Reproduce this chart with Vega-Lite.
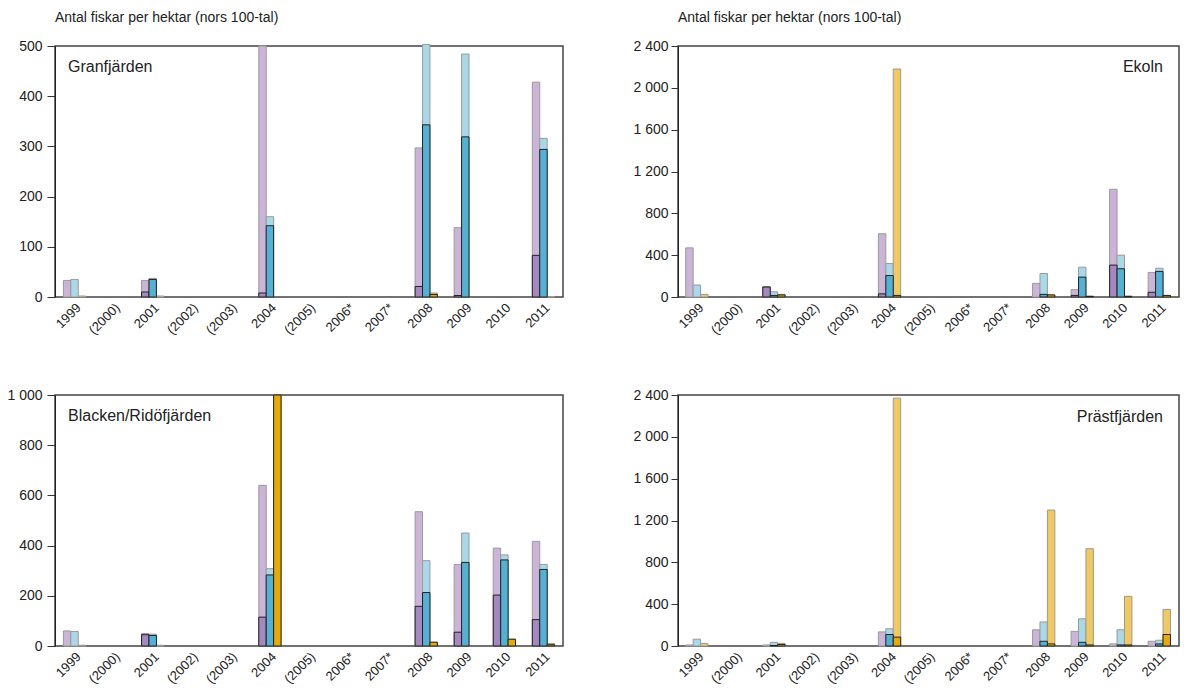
{
  "$schema": "https://vega.github.io/schema/vega-lite/v6.json",
  "background": "white",
  "padding": {"left": 6, "top": 10, "right": 0, "bottom": 0},
  "datasets": {
    "fisk": [
      {"sjo": "Granfjärden", "ar": "1999", "grupp": "A", "total": 33, "andel": null},
      {"sjo": "Granfjärden", "ar": "1999", "grupp": "B", "total": 35, "andel": null},
      {"sjo": "Granfjärden", "ar": "1999", "grupp": "C", "total": 2, "andel": null},
      {"sjo": "Granfjärden", "ar": "2001", "grupp": "A", "total": 33, "andel": 10},
      {"sjo": "Granfjärden", "ar": "2001", "grupp": "B", "total": 37, "andel": 35},
      {"sjo": "Granfjärden", "ar": "2001", "grupp": "C", "total": 2, "andel": null},
      {"sjo": "Granfjärden", "ar": "2004", "grupp": "A", "total": 500, "andel": 8},
      {"sjo": "Granfjärden", "ar": "2004", "grupp": "B", "total": 160, "andel": 142},
      {"sjo": "Granfjärden", "ar": "2008", "grupp": "A", "total": 297, "andel": 21},
      {"sjo": "Granfjärden", "ar": "2008", "grupp": "B", "total": 503, "andel": 343},
      {"sjo": "Granfjärden", "ar": "2008", "grupp": "C", "total": 8, "andel": 5},
      {"sjo": "Granfjärden", "ar": "2009", "grupp": "A", "total": 138, "andel": 3},
      {"sjo": "Granfjärden", "ar": "2009", "grupp": "B", "total": 484, "andel": 319},
      {"sjo": "Granfjärden", "ar": "2011", "grupp": "A", "total": 428, "andel": 83},
      {"sjo": "Granfjärden", "ar": "2011", "grupp": "B", "total": 316, "andel": 294},
      {"sjo": "Granfjärden", "ar": "2011", "grupp": "C", "total": 1, "andel": null},

      {"sjo": "Ekoln", "ar": "1999", "grupp": "A", "total": 470, "andel": null},
      {"sjo": "Ekoln", "ar": "1999", "grupp": "B", "total": 115, "andel": null},
      {"sjo": "Ekoln", "ar": "1999", "grupp": "C", "total": 25, "andel": null},
      {"sjo": "Ekoln", "ar": "2001", "grupp": "A", "total": 100, "andel": 95},
      {"sjo": "Ekoln", "ar": "2001", "grupp": "B", "total": 50, "andel": 15},
      {"sjo": "Ekoln", "ar": "2001", "grupp": "C", "total": 25, "andel": 20},
      {"sjo": "Ekoln", "ar": "2004", "grupp": "A", "total": 605, "andel": 30},
      {"sjo": "Ekoln", "ar": "2004", "grupp": "B", "total": 320, "andel": 205},
      {"sjo": "Ekoln", "ar": "2004", "grupp": "C", "total": 2180, "andel": 15},
      {"sjo": "Ekoln", "ar": "2008", "grupp": "A", "total": 130, "andel": null},
      {"sjo": "Ekoln", "ar": "2008", "grupp": "B", "total": 225, "andel": 25},
      {"sjo": "Ekoln", "ar": "2008", "grupp": "C", "total": 20, "andel": 20},
      {"sjo": "Ekoln", "ar": "2009", "grupp": "A", "total": 70, "andel": 15},
      {"sjo": "Ekoln", "ar": "2009", "grupp": "B", "total": 285, "andel": 190},
      {"sjo": "Ekoln", "ar": "2009", "grupp": "C", "total": 10, "andel": 5},
      {"sjo": "Ekoln", "ar": "2010", "grupp": "A", "total": 1030, "andel": 305},
      {"sjo": "Ekoln", "ar": "2010", "grupp": "B", "total": 400, "andel": 270},
      {"sjo": "Ekoln", "ar": "2010", "grupp": "C", "total": 10, "andel": 5},
      {"sjo": "Ekoln", "ar": "2011", "grupp": "A", "total": 235, "andel": 45},
      {"sjo": "Ekoln", "ar": "2011", "grupp": "B", "total": 275, "andel": 245},
      {"sjo": "Ekoln", "ar": "2011", "grupp": "C", "total": 15, "andel": 15},

      {"sjo": "Blacken/Ridöfjärden", "ar": "1999", "grupp": "A", "total": 60, "andel": null},
      {"sjo": "Blacken/Ridöfjärden", "ar": "1999", "grupp": "B", "total": 58, "andel": null},
      {"sjo": "Blacken/Ridöfjärden", "ar": "1999", "grupp": "C", "total": 3, "andel": null},
      {"sjo": "Blacken/Ridöfjärden", "ar": "2001", "grupp": "A", "total": 50, "andel": 45},
      {"sjo": "Blacken/Ridöfjärden", "ar": "2001", "grupp": "B", "total": 47, "andel": 42},
      {"sjo": "Blacken/Ridöfjärden", "ar": "2001", "grupp": "C", "total": 3, "andel": null},
      {"sjo": "Blacken/Ridöfjärden", "ar": "2004", "grupp": "A", "total": 640, "andel": 115},
      {"sjo": "Blacken/Ridöfjärden", "ar": "2004", "grupp": "B", "total": 308, "andel": 283},
      {"sjo": "Blacken/Ridöfjärden", "ar": "2004", "grupp": "C", "total": 1000, "andel": 1000},
      {"sjo": "Blacken/Ridöfjärden", "ar": "2008", "grupp": "A", "total": 535, "andel": 158},
      {"sjo": "Blacken/Ridöfjärden", "ar": "2008", "grupp": "B", "total": 340, "andel": 213},
      {"sjo": "Blacken/Ridöfjärden", "ar": "2008", "grupp": "C", "total": 15, "andel": 15},
      {"sjo": "Blacken/Ridöfjärden", "ar": "2009", "grupp": "A", "total": 325, "andel": 55},
      {"sjo": "Blacken/Ridöfjärden", "ar": "2009", "grupp": "B", "total": 450, "andel": 333},
      {"sjo": "Blacken/Ridöfjärden", "ar": "2010", "grupp": "A", "total": 390, "andel": 203},
      {"sjo": "Blacken/Ridöfjärden", "ar": "2010", "grupp": "B", "total": 363, "andel": 343},
      {"sjo": "Blacken/Ridöfjärden", "ar": "2010", "grupp": "C", "total": 27, "andel": 27},
      {"sjo": "Blacken/Ridöfjärden", "ar": "2011", "grupp": "A", "total": 417, "andel": 105},
      {"sjo": "Blacken/Ridöfjärden", "ar": "2011", "grupp": "B", "total": 325, "andel": 305},
      {"sjo": "Blacken/Ridöfjärden", "ar": "2011", "grupp": "C", "total": 10, "andel": 5},

      {"sjo": "Prästfjärden", "ar": "1999", "grupp": "A", "total": 10, "andel": null},
      {"sjo": "Prästfjärden", "ar": "1999", "grupp": "B", "total": 65, "andel": null},
      {"sjo": "Prästfjärden", "ar": "1999", "grupp": "C", "total": 25, "andel": null},
      {"sjo": "Prästfjärden", "ar": "2001", "grupp": "A", "total": 10, "andel": null},
      {"sjo": "Prästfjärden", "ar": "2001", "grupp": "B", "total": 35, "andel": 5},
      {"sjo": "Prästfjärden", "ar": "2001", "grupp": "C", "total": 25, "andel": 15},
      {"sjo": "Prästfjärden", "ar": "2004", "grupp": "A", "total": 135, "andel": null},
      {"sjo": "Prästfjärden", "ar": "2004", "grupp": "B", "total": 165, "andel": 110},
      {"sjo": "Prästfjärden", "ar": "2004", "grupp": "C", "total": 2370, "andel": 85},
      {"sjo": "Prästfjärden", "ar": "2008", "grupp": "A", "total": 155, "andel": null},
      {"sjo": "Prästfjärden", "ar": "2008", "grupp": "B", "total": 230, "andel": 45},
      {"sjo": "Prästfjärden", "ar": "2008", "grupp": "C", "total": 1300, "andel": 20},
      {"sjo": "Prästfjärden", "ar": "2009", "grupp": "A", "total": 140, "andel": null},
      {"sjo": "Prästfjärden", "ar": "2009", "grupp": "B", "total": 260, "andel": 35},
      {"sjo": "Prästfjärden", "ar": "2009", "grupp": "C", "total": 930, "andel": 10},
      {"sjo": "Prästfjärden", "ar": "2010", "grupp": "A", "total": 20, "andel": null},
      {"sjo": "Prästfjärden", "ar": "2010", "grupp": "B", "total": 155, "andel": 10},
      {"sjo": "Prästfjärden", "ar": "2010", "grupp": "C", "total": 475, "andel": 10},
      {"sjo": "Prästfjärden", "ar": "2011", "grupp": "A", "total": 45, "andel": null},
      {"sjo": "Prästfjärden", "ar": "2011", "grupp": "B", "total": 55, "andel": 20},
      {"sjo": "Prästfjärden", "ar": "2011", "grupp": "C", "total": 350, "andel": 110}
    ]
  },
  "columns": 2,
  "bounds": "flush",
  "spacing": {"row": 98, "column": 115},
  "concat": [
    {
      "width": 508, "height": 251,
      "title": {"text": "Antal fiskar per hektar (nors 100-tal)", "anchor": "start", "frame": "group", "offset": 14},
      "data": {"name": "fisk"},
      "transform": [{"filter": "datum.sjo === 'Granfjärden'"}],
      "encoding": {
        "x": {"field": "ar", "type": "nominal", "scale": {"domain": ["1999", "(2000)", "2001", "(2002)", "(2003)", "2004", "(2005)", "2006*", "2007*", "2008", "2009", "2010", "2011"], "paddingInner": 0.43, "paddingOuter": 0.215}, "axis": {"title": null, "labelAngle": -45}},
        "xOffset": {"field": "grupp", "type": "nominal", "scale": {"domain": ["A", "B", "C"], "paddingInner": 0, "paddingOuter": 0}}
      },
      "resolve": {"scale": {"color": "independent"}},
      "layer": [
        {"mark": {"type": "bar", "stroke": "#9a9a9a", "strokeWidth": 1, "clip": false},
         "encoding": {"y": {"field": "total", "type": "quantitative", "scale": {"domain": [0, 500], "nice": false}, "axis": {"values": [0, 100, 200, 300, 400, 500], "title": null, "tickSize": 8, "labelPadding": 5}},
                      "color": {"field": "grupp", "type": "nominal", "scale": {"domain": ["A", "B", "C"], "range": ["#cbb4d8", "#a9d8e8", "#f1c95f"]}, "legend": null}}},
        {"mark": {"type": "bar", "stroke": "#222", "strokeWidth": 1},
         "encoding": {"y": {"field": "andel", "type": "quantitative"},
                      "color": {"field": "grupp", "type": "nominal", "scale": {"domain": ["A", "B", "C"], "range": ["#a787bf", "#52b2d6", "#e8a900"]}, "legend": null}}},
        {"data": {"values": [{"namn": "Granfjärden"}]},
         "mark": {"type": "text", "align": "left", "baseline": "middle", "fontSize": 16, "dx": 4.6, "color": "#222"},
         "encoding": {"x": {"datum": "1999", "axis": {"title": null, "labelAngle": -45}}, "y": {"datum": 458}, "text": {"field": "namn"}, "xOffset": {"value": 0}}}
      ]
    },
    {
      "width": 501, "height": 251,
      "title": {"text": "Antal fiskar per hektar (nors 100-tal)", "anchor": "start", "frame": "group", "offset": 14},
      "data": {"name": "fisk"},
      "transform": [{"filter": "datum.sjo === 'Ekoln'"}],
      "encoding": {
        "x": {"field": "ar", "type": "nominal", "scale": {"domain": ["1999", "(2000)", "2001", "(2002)", "(2003)", "2004", "(2005)", "2006*", "2007*", "2008", "2009", "2010", "2011"], "paddingInner": 0.4, "paddingOuter": 0.2}, "axis": {"title": null, "labelAngle": -45}},
        "xOffset": {"field": "grupp", "type": "nominal", "scale": {"domain": ["A", "B", "C"], "paddingInner": 0, "paddingOuter": 0}}
      },
      "resolve": {"scale": {"color": "independent"}},
      "layer": [
        {"mark": {"type": "bar", "stroke": "#9a9a9a", "strokeWidth": 1, "clip": false},
         "encoding": {"y": {"field": "total", "type": "quantitative", "scale": {"domain": [0, 2400], "nice": false}, "axis": {"values": [0, 400, 800, 1200, 1600, 2000, 2400], "title": null}},
                      "color": {"field": "grupp", "type": "nominal", "scale": {"domain": ["A", "B", "C"], "range": ["#cbb4d8", "#a9d8e8", "#f1c95f"]}, "legend": null}}},
        {"mark": {"type": "bar", "stroke": "#222", "strokeWidth": 1},
         "encoding": {"y": {"field": "andel", "type": "quantitative"},
                      "color": {"field": "grupp", "type": "nominal", "scale": {"domain": ["A", "B", "C"], "range": ["#a787bf", "#52b2d6", "#e8a900"]}, "legend": null}}},
        {"data": {"values": [{"namn": "Ekoln"}]},
         "mark": {"type": "text", "align": "right", "baseline": "middle", "fontSize": 16, "dx": 14.8, "color": "#222"},
         "encoding": {"x": {"datum": "2011", "axis": {"title": null, "labelAngle": -45}}, "y": {"datum": 2200}, "text": {"field": "namn"}, "xOffset": {"value": 0}}}
      ]
    },
    {
      "width": 508, "height": 251,
      "data": {"name": "fisk"},
      "transform": [{"filter": "datum.sjo === 'Blacken/Ridöfjärden'"}],
      "encoding": {
        "x": {"field": "ar", "type": "nominal", "scale": {"domain": ["1999", "(2000)", "2001", "(2002)", "(2003)", "2004", "(2005)", "2006*", "2007*", "2008", "2009", "2010", "2011"], "paddingInner": 0.43, "paddingOuter": 0.215}, "axis": {"title": null, "labelAngle": -45}},
        "xOffset": {"field": "grupp", "type": "nominal", "scale": {"domain": ["A", "B", "C"], "paddingInner": 0, "paddingOuter": 0}}
      },
      "resolve": {"scale": {"color": "independent"}},
      "layer": [
        {"mark": {"type": "bar", "stroke": "#9a9a9a", "strokeWidth": 1, "clip": false},
         "encoding": {"y": {"field": "total", "type": "quantitative", "scale": {"domain": [0, 1000], "nice": false}, "axis": {"values": [0, 200, 400, 600, 800, 1000], "title": null, "tickSize": 8, "labelPadding": 5}},
                      "color": {"field": "grupp", "type": "nominal", "scale": {"domain": ["A", "B", "C"], "range": ["#cbb4d8", "#a9d8e8", "#f1c95f"]}, "legend": null}}},
        {"mark": {"type": "bar", "stroke": "#222", "strokeWidth": 1},
         "encoding": {"y": {"field": "andel", "type": "quantitative"},
                      "color": {"field": "grupp", "type": "nominal", "scale": {"domain": ["A", "B", "C"], "range": ["#a787bf", "#52b2d6", "#e8a900"]}, "legend": null}}},
        {"data": {"values": [{"namn": "Blacken/Ridöfjärden"}]},
         "mark": {"type": "text", "align": "left", "baseline": "middle", "fontSize": 16, "dx": 4.6, "color": "#222"},
         "encoding": {"x": {"datum": "1999", "axis": {"title": null, "labelAngle": -45}}, "y": {"datum": 916}, "text": {"field": "namn"}, "xOffset": {"value": 0}}}
      ]
    },
    {
      "width": 501, "height": 251,
      "data": {"name": "fisk"},
      "transform": [{"filter": "datum.sjo === 'Prästfjärden'"}],
      "encoding": {
        "x": {"field": "ar", "type": "nominal", "scale": {"domain": ["1999", "(2000)", "2001", "(2002)", "(2003)", "2004", "(2005)", "2006*", "2007*", "2008", "2009", "2010", "2011"], "paddingInner": 0.4, "paddingOuter": 0.2}, "axis": {"title": null, "labelAngle": -45}},
        "xOffset": {"field": "grupp", "type": "nominal", "scale": {"domain": ["A", "B", "C"], "paddingInner": 0, "paddingOuter": 0}}
      },
      "resolve": {"scale": {"color": "independent"}},
      "layer": [
        {"mark": {"type": "bar", "stroke": "#9a9a9a", "strokeWidth": 1, "clip": false},
         "encoding": {"y": {"field": "total", "type": "quantitative", "scale": {"domain": [0, 2400], "nice": false}, "axis": {"values": [0, 400, 800, 1200, 1600, 2000, 2400], "title": null}},
                      "color": {"field": "grupp", "type": "nominal", "scale": {"domain": ["A", "B", "C"], "range": ["#cbb4d8", "#a9d8e8", "#f1c95f"]}, "legend": null}}},
        {"mark": {"type": "bar", "stroke": "#222", "strokeWidth": 1},
         "encoding": {"y": {"field": "andel", "type": "quantitative"},
                      "color": {"field": "grupp", "type": "nominal", "scale": {"domain": ["A", "B", "C"], "range": ["#a787bf", "#52b2d6", "#e8a900"]}, "legend": null}}},
        {"data": {"values": [{"namn": "Prästfjärden"}]},
         "mark": {"type": "text", "align": "right", "baseline": "middle", "fontSize": 16, "dx": 14.8, "color": "#222"},
         "encoding": {"x": {"datum": "2011", "axis": {"title": null, "labelAngle": -45}}, "y": {"datum": 2190}, "text": {"field": "namn"}, "xOffset": {"value": 0}}}
      ]
    }
  ],
  "config": {
    "view": {"stroke": "#444", "strokeWidth": 1.5},
    "title": {"fontSize": 14, "fontWeight": "normal", "color": "#222"},
    "axisY": {"grid": false, "tickSize": 7, "tickColor": "#333", "domainColor": "#222", "labelFontSize": 14, "labelColor": "#222", "labelPadding": 3, "labelExpr": "replace(format(datum.value, ',d'), ',', ' ')"},
    "axisX": {"grid": false, "ticks": false, "domain": false, "labelFontSize": 13, "labelColor": "#222", "labelPadding": 4}
  }
}
